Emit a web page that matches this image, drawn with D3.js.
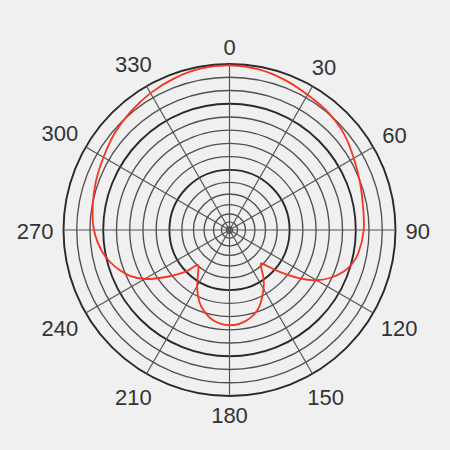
<!DOCTYPE html>
<html>
<head>
<meta charset="utf-8">
<script src="https://cdn.jsdelivr.net/npm/d3@7"></script>
<style>
  body { margin: 0; background: #f0f0f0; }
</style>
</head>
<body>
<div id="chart"></div>
<script>
const WIDTH = 450
const HEIGHT = 450
const CX = 229.5
const CY = 230
const R = 166

// pattern, degrees clockwise from top
const angles = [0, 10, 20, 30, 40, 50, 60, 70, 80, 90, 100, 105, 110, 115, 120, 125, 130, 134, 137, 140, 145, 150, 160, 170,
  180, 190, 200, 205, 210, 215, 219, 222, 226, 230, 235, 240, 245, 250, 255, 260, 270, 280, 290, 300, 310, 320, 330, 340, 350]
const gainDb = [-0.2, -0.4, -0.9, -1.5, -1.9, -2.5, -3.4, -4.1, -4.6, -4.8, -5.3, -5.8, -6.7, -8.1, -9.9, -12.5, -15.3, -17.4, -18.3, -17.7, -16.1, -14.8, -12.4, -11.1,
  -10.7, -11.2, -12.7, -13.9, -15.3, -16.8, -17.7, -18.1, -16.2, -14.6, -12.5, -10.3, -8.6, -7.4, -6.4, -5.6, -4.6, -4.1, -3.6, -3.1, -2.4, -1.8, -1.2, -0.7, -0.3]

const ringDb = [0, -2, -4, -6, -8, -10, -12, -14, -16, -18, -20, -22, -24, -26, -28]
const majorDb = [0, -6, -16]
const angleTicks = [0, 30, 60, 90, 120, 150, 180, 210, 240, 270, 300, 330]

// linear part down to -16 dB, compressed below
const rOuter = d3.scaleLinear().domain([-16, 0]).range([R * 0.362, R])
const rInner = d3.scalePow().exponent(1.35).domain([0, 12]).range([3, R * 0.362])
const r = db => db >= -16 ? rOuter(db) : rInner(db + 28)
const a = d3.scaleLinear().domain([0, 360]).range([0, 2 * Math.PI])

const svg = d3.select("#chart")
  .append("svg")
    .attr("width", WIDTH)
    .attr("height", HEIGHT)
    .style("background", "#f0f0f0")

const g = svg.append("g")
  .attr("transform", `translate(${CX}, ${CY})`)

g.selectAll(".ring")
  .data(ringDb)
  .enter()
  .append("circle")
    .attr("r", d => r(d))
    .attr("fill", "none")
    .attr("stroke", d => majorDb.includes(d) ? "#2a2a2a" : "#505050")
    .attr("stroke-width", d => majorDb.includes(d) ? 1.9 : 1.35)

g.selectAll(".spoke")
  .data(angleTicks)
  .enter()
  .append("line")
    .attr("x1", 0)
    .attr("y1", 0)
    .attr("x2", d => R * Math.sin(a(d)))
    .attr("y2", d => -R * Math.cos(a(d)))
    .attr("stroke", "#555")
    .attr("stroke-width", 1.2)

const line = d3.lineRadial()
  .angle(d => a(d[0]))
  .radius(d => r(d[1]))
  .curve(d3.curveCatmullRomClosed.alpha(0.5))

g.append("path")
  .datum(d3.zip(angles, gainDb))
  .attr("d", line)
  .attr("fill", "none")
  .attr("stroke", "#fa3222")
  .attr("stroke-width", 1.8)

// angle labels pushed out by their box size
const labels = g.selectAll(".lab")
  .data(angleTicks)
  .enter()
  .append("text")
    .attr("font-family", "Liberation Sans, Arial, sans-serif")
    .attr("font-size", 22)
    .attr("fill", "#333")
    .attr("text-anchor", "middle")
    .attr("dominant-baseline", "central")
    .text(d => d)

labels.each(function(d) {
  const w = this.getComputedTextLength()
  const s = Math.sin(a(d)), c = Math.cos(a(d))
  const dist = R + 10 + Math.abs(s) * w / 2 + Math.abs(c) * 8
  d3.select(this)
    .attr("x", dist * s)
    .attr("y", -dist * c + 1)
})
</script>
</body>
</html>
